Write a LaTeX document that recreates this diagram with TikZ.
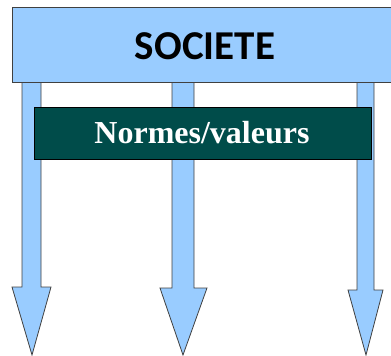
\documentclass[tikz,border=0pt]{standalone}
\usepackage{fontspec}
\setmainfont{Liberation Serif}
\newfontfamily\titlefont{Carlito}
\definecolor{ciel}{HTML}{99CCFF}
\definecolor{sapin}{HTML}{004C4A}
\begin{document}
\begin{tikzpicture}[x=1pt,y=-1pt,
    fleche/.style={fill=ciel, draw=black!75, line width=0.8pt, line join=miter},
    bandeau/.style={fill=ciel, draw=black!75, line width=0.8pt, inner sep=0pt},
    cadre/.style={fill=sapin, draw=black, line width=0.8pt, inner sep=0pt, text=white}]
   	    			\useasboundingbox (0,0) rectangle (391,356);
   	    			\draw[fleche] (22,80) -- (41,80) -- (41,287) -- (51,287) -- (32,355) -- (12,287) -- (22,287) -- cycle;
   	    			\draw[fleche] (172,80) -- (194,80) -- (194,288) -- (207,288) -- (183,355) -- (160,288) -- (172,288) -- cycle;
   	    			\draw[fleche] (357,80) -- (374,80) -- (374,290) -- (383,290) -- (366,355) -- (348,290) -- (357,290) -- cycle;
   	    			\node[bandeau, minimum width=390pt, minimum height=75pt] (societe) at (207,44.5) {};
   	    			\node[font=\titlefont\bfseries\fontsize{41}{41}\selectfont] (titre) at (205,46) {SOCIETE};
   	    			\node[cadre, minimum width=337pt, minimum height=52pt] (normes) at (202.5,133) {};
   	    			\node[text=white, font=\bfseries\fontsize{32}{32}\selectfont] (valeurs) at (202,133) {Normes/valeurs};
   	    			\end{tikzpicture}
\end{document}
